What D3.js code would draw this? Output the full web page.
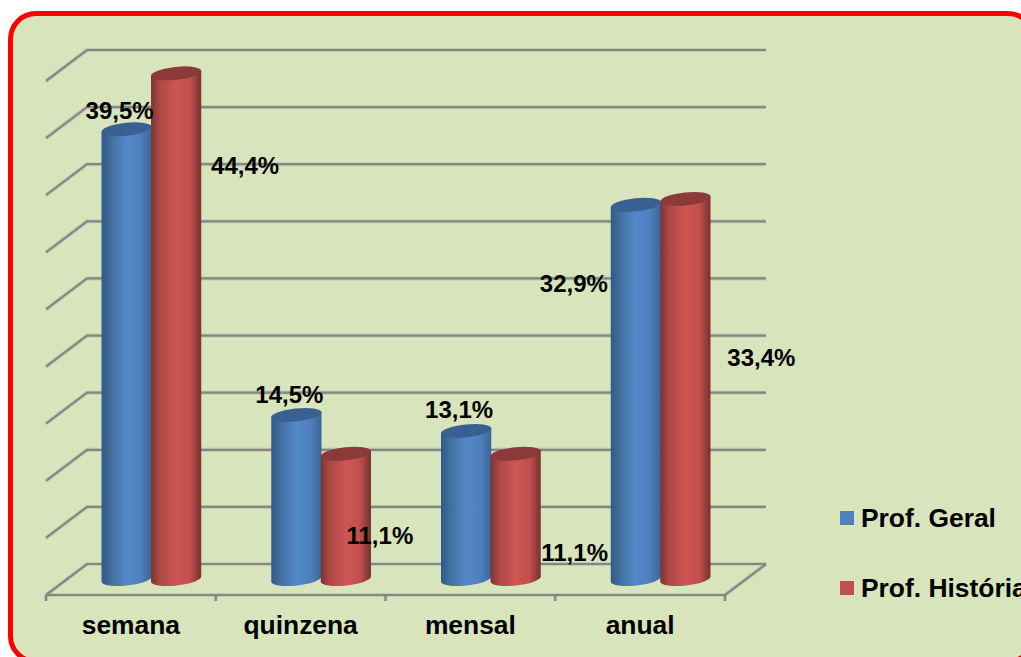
<!DOCTYPE html>
<html>
<head>
<meta charset="utf-8">
<script src="https://cdn.jsdelivr.net/npm/d3@7"></script>
<style>
  html, body { margin: 0; padding: 0; background: #fff; overflow: hidden; }
  svg { display: block; }
  text { font-family: "Liberation Sans", Arial, sans-serif; font-weight: bold; fill: #000; }
</style>
</head>
<body>
<svg></svg>
<script>
const width = 1021,
  height = 657;

// Values.
const categories = ["semana", "quinzena", "mensal", "anual"];
const seriesNames = ["Prof. Geral", "Prof. História"];
const profGeral = [39.5, 14.5, 13.1, 32.9];
const profHistoria = [44.4, 11.1, 11.1, 33.4];
const gridTicks = [0, 5, 10, 15, 20, 25, 30, 35, 40, 45];

// The labels were placed by hand in the original, so keep their shift from the bar top.
const labelShift = [
  [[-7, -19], [69, 92]],
  [[-7, -21], [34, 81]],
  [[-7, -22], [59, 98]],
  [[-62, 78], [76, 158]]
];

// Fake 3D: the walls sit behind the floor's front edge by this much.
const depthX = 41,
  depthY = -31,
  barShiftX = 20.5,
  topShiftY = 16.5,
  baseShiftY = 15,
  groupWidth = 99,
  capRy = 6.5,
  capTilt = -6;

const svg = d3.select("svg")
  .attr("width", width)
  .attr("height", height);

const x = d3.scaleBand().domain(categories).range([46, 725]);
const y = d3.scaleLinear().domain([0, 45]).range([564, 50]);
const lineColor = "#868686";

const defs = svg.append("defs");

function sideGradient(id, stops) {
  const g = defs.append("linearGradient").attr("id", id);
  stops.forEach(s => g.append("stop").attr("offset", s[0]).attr("stop-color", s[1]));
}

sideGradient("blueSide", [[0, "#315a88"], [0.2, "#43719f"], [0.5, "#5488ca"], [0.78, "#4e80bd"], [1, "#3a6596"]]);
sideGradient("redSide", [[0, "#7a3533"], [0.18, "#ae4846"], [0.5, "#cd5654"], [0.78, "#c14f4d"], [1, "#753230"]]);

const seriesStyle = [
  { values: profGeral, side: "url(#blueSide)", cap: "#386192", swatch: "#4f81bd" },
  { values: profHistoria, side: "url(#redSide)", cap: "#8c3a39", swatch: "#c0504d" }
];

// Background panel with the red frame, it runs off the right and bottom of the page.
svg.append("rect")
  .attr("x", 10.5)
  .attr("y", 13.5)
  .attr("width", 1023)
  .attr("height", 648)
  .attr("rx", 25.5)
  .attr("fill", "#d8e4bc")
  .attr("stroke", "#ff0000")
  .attr("stroke-width", 5);

// Grid lines on the back and side walls, drawn twice to get the soft edge.
const floorY = y(0) - depthY;
const tickPositions = categories.map(c => x(c)).concat(x.range()[1]);

[[4, 0.25], [2.2, 1]].forEach(pass => {
  const grid = svg.append("g")
    .attr("fill", "none")
    .attr("stroke", lineColor)
    .attr("stroke-width", pass[0])
    .attr("stroke-opacity", pass[1]);

  gridTicks.forEach(t => {
    grid.append("path")
      .attr("d", "M" + x.range()[0] + "," + (y(t) - depthY) +
        "L" + (x.range()[0] + depthX) + "," + y(t) +
        "H" + (x.range()[1] + depthX));
  });

  // Floor edge and the tick marks below it.
  grid.append("path")
    .attr("d", "M" + x.range()[0] + "," + floorY + "H" + x.range()[1] +
      "L" + (x.range()[1] + depthX) + "," + y(0));

  grid.selectAll(null)
    .data(tickPositions)
    .enter()
    .append("line")
    .attr("x1", d => d)
    .attr("x2", d => d)
    .attr("y1", floorY)
    .attr("y2", floorY + 6);
});

// One cylinder: side body first, then the darker top cap.
function drawCylinder(parent, style, x0, bw, value) {
  const rx = bw / 2,
    cx = x0 + rx,
    topY = y(value) + topShiftY,
    baseY = y(0) + baseShiftY,
    a = capTilt * Math.PI / 180,
    dx = rx * Math.cos(a),
    dy = rx * Math.sin(a);

  parent.append("path")
    .attr("fill", style.side)
    .attr("d", "M" + (cx - dx) + "," + (topY - dy) +
      "L" + (cx - dx) + "," + (baseY - dy) +
      "A" + rx + "," + capRy + " " + capTilt + " 0 0 " + (cx + dx) + "," + (baseY + dy) +
      "L" + (cx + dx) + "," + (topY + dy) + "Z");

  parent.append("ellipse")
    .attr("transform", "translate(" + cx + "," + topY + ") rotate(" + capTilt + ")")
    .attr("rx", rx)
    .attr("ry", capRy)
    .attr("fill", style.cap);
}

function innerScale(c) {
  const mid = x(c) + x.bandwidth() / 2 + barShiftX;
  return d3.scaleBand()
    .domain(seriesNames)
    .range([mid - groupWidth / 2, mid + groupWidth / 2]);
}

const bars = svg.append("g");
categories.forEach((c, i) => {
  const inner = innerScale(c);
  seriesStyle.forEach((s, j) => {
    // 1px wider so the neighbours overlap a little
    drawCylinder(bars, s, inner(seriesNames[j]) - 0.5, inner.bandwidth() + 1, s.values[i]);
  });
});

// Value labels, decimal comma as in the original.
const labels = svg.append("g")
  .attr("text-anchor", "middle")
  .style("font-size", "24px");

categories.forEach((c, i) => {
  const inner = innerScale(c);
  seriesStyle.forEach((s, j) => {
    const shift = labelShift[i][j];
    labels.append("text")
      .attr("x", inner(seriesNames[j]) + inner.bandwidth() / 2 + shift[0])
      .attr("y", y(s.values[i]) + 17 + shift[1])
      .attr("dy", "0.35em")
      .text(s.values[i].toFixed(1).replace(".", ",") + "%");
  });
});

// Category labels.
svg.append("g")
  .attr("text-anchor", "middle")
  .style("font-size", "26.4px")
  .selectAll("text")
  .data(categories)
  .enter()
  .append("text")
  .attr("x", d => x(d) + x.bandwidth() / 2)
  .attr("y", 634)
  .text(d => d);

// Legend.
const legend = svg.append("g")
  .selectAll("g")
  .data(seriesNames)
  .enter()
  .append("g")
  .attr("transform", (d, i) => "translate(840," + (511 + i * 70) + ")");

legend.append("rect")
  .attr("width", 14)
  .attr("height", 14)
  .attr("fill", (d, i) => seriesStyle[i].swatch);

legend.append("text")
  .attr("x", 21)
  .attr("y", 16)
  .style("font-size", "26.4px")
  .text(d => d);
</script>
</body>
</html>
